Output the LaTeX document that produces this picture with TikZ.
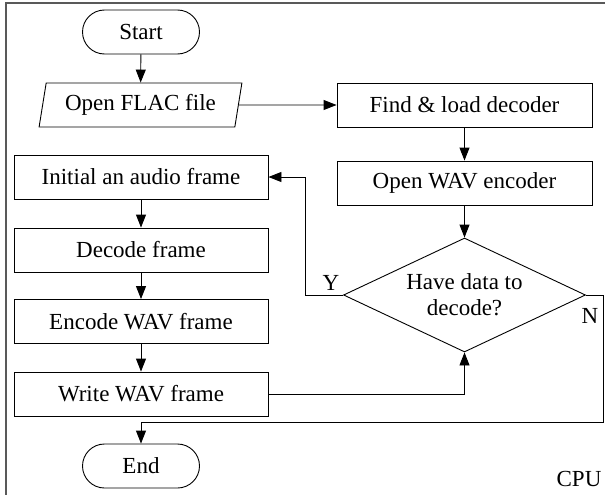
\documentclass[tikz,border=0pt]{standalone}
\usepackage{fontspec}
\setmainfont{Liberation Serif}
\usetikzlibrary{shapes.geometric,shapes.misc,arrows.meta}
\tikzset{
  base/.style={draw, line width=0.9pt, inner sep=0pt, font=\fontsize{23}{26}\selectfont, align=center},
  procbox/.style={base, rectangle, minimum width=254pt, minimum height=44pt},
  termbox/.style={base, rounded rectangle, minimum width=117pt, minimum height=44pt},
  iobox/.style={base, trapezium, trapezium left angle=75, trapezium right angle=105, trapezium stretches=true, minimum width=203pt, minimum height=44pt},
  decbox/.style={base, diamond, aspect=2.12, minimum width=242pt, minimum height=114pt},
  arr/.style={line width=0.9pt, -{Triangle[length=13pt,width=10pt]}},
  lbl/.style={font=\fontsize{23}{26}\selectfont, inner sep=0pt}
}
\begin{document}
\begin{tikzpicture}[x=1pt,y=-1pt]
\useasboundingbox (0,0) rectangle (605,495);
\draw[gray!70!black, line width=2pt] (5.5,495) -- (5.5,3.5) -- (605,3.5);
\node[termbox] (start) at (141,32) {Start};
\node[iobox] (flac) at (140.5,105) {Open FLAC file};
\node[procbox, minimum width=255pt] (find) at (464.5,105) {Find \& load decoder};
\node[procbox, minimum width=255pt] (wav) at (464.5,183) {Open WAV encoder};
\node[decbox] (dec) at (464.5,295) {Have data to\\decode?};
\node[procbox] (init) at (141,177) {Initial an audio frame};
\node[procbox] (decode) at (141,250) {Decode frame};
\node[procbox] (encode) at (141,321.5) {Encode WAV frame};
\node[procbox] (write) at (141,394) {Write WAV frame};
\node[termbox] (end) at (141,466) {End};
\node[lbl] (ylbl) at (331,283) {Y};
\node[lbl] (nlbl) at (590,316) {N};
\node[lbl] (cpu) at (579,479) {CPU};
\coordinate (yc) at (305,295);
\coordinate (n1) at (603.5,295);
\coordinate (n2) at (603.5,422);
\draw[arr] (start) -- (flac);
\draw[arr] (flac.east) -- (find.west);
\draw[arr] (find) -- (wav);
\draw[arr] (wav) -- (dec.north);
\draw[arr] (dec.west) -- (yc) |- (init.east);
\draw[arr] (init) -- (decode);
\draw[arr] (decode) -- (encode);
\draw[arr] (encode) -- (write);
\draw[arr] (write.east) -| (dec.south);
\draw[arr] (dec.east) -- (n1) -- (n2) -| (end.north);
\end{tikzpicture}
\end{document}
